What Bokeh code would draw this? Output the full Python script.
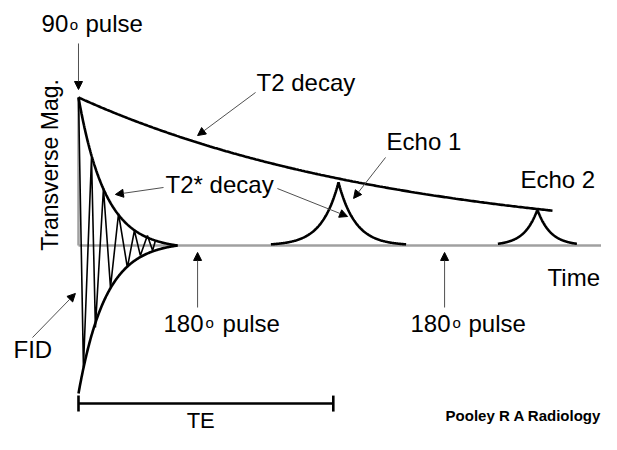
import numpy as np
from bokeh.plotting import figure
from bokeh.models import Range1d, Arrow, NormalHead
from bokeh.core.properties import value
from bokeh.embed import file_html
from bokeh.resources import INLINE

# ---------------- data (time: arbitrary units, magnitude: normalised) ----------------
T2 = 126.0                 # T2 decay constant
T2_STAR = 10.4             # T2* decay constant of the FID envelope
FID_END = 38.1             # time where the FID envelope meets the axis
T2_CURVE_END = 182.3       # end of the drawn T2 decay line
TIME_AXIS_END = 207.3
pulse_180_times = [45.8, 140.8]
echo_times = [100.0, 176.5]
echo_amps = [0.426, 0.243]
echo_taus = [6.5, 5.0]
echo_half_widths = [26.0, 15.2]
te_end = 98.0

# FID oscillation vertices
fid_t = [0.0, 1.9, 5.0, 6.5, 9.6, 12.3, 15.4, 18.8, 21.5, 23.8, 26.5, 28.5, 29.6]
fid_m = [1.0, -0.824, 0.595, -0.554, 0.385, -0.284, 0.216, -0.149, 0.101, -0.068, 0.068, -0.034, 0.034]

# annotation labels and their anchor positions (time, magnitude), anchored at text middle
labels = ["T2 decay", "Echo 1", "T2* decay", "Echo 2", "Time", "FID"]
label_t = [68.5, 118.5, 33.5, 170.0, 180.4, -25.0]
label_m = [1.101, 0.703, 0.409, 0.449, -0.216, -0.703]

pulse_labels = ["90", "180", "180"]
pulse_label_t = [-14.2, 32.7, 127.7]
pulse_label_m = [1.497, -0.530, -0.530]
deg_t = [-3.4, 48.8, 143.8]
deg_m = [1.492, -0.518, -0.518]
pulse_word_t = [2.7, 55.4, 150.0]

# arrows: (t_start, m_start, t_end, m_end)
arrows = [
    (0.0, 1.365, 0.0, 1.054),        # 90 pulse
    (68.1, 1.034, 45.8, 0.743),      # T2 decay
    (118.1, 0.595, 105.8, 0.318),    # Echo 1
    (32.7, 0.392, 14.2, 0.345),      # T2* decay -> FID
    (76.5, 0.385, 103.5, 0.196),     # T2* decay -> echo
    (-17.7, -0.622, -1.2, -0.324),   # FID
    (pulse_180_times[0], -0.419, pulse_180_times[0], -0.047),
    (pulse_180_times[1], -0.419, pulse_180_times[1], -0.047),
]

te_m = -1.068
te_tick = (-1.014, -1.122)
te_label_m = -1.182

FONT = value("Liberation Sans")

p = figure(width=601, height=434, output_backend="svg", toolbar_location=None,
           x_axis_type=None, y_axis_type=None, min_border=0,
           x_range=Range1d(-30.0, 201.154), y_range=Range1d(-1.2770, 1.6554),
           outline_line_color=None, background_fill_color="white")

GRAY = "#a0a0a0"
# axes of the diagram
p.line([0, TIME_AXIS_END], [0, 0], line_color=GRAY, line_width=2.5)
p.line([0, 0], [0, 1.0], line_color=GRAY, line_width=2.5)

# T2 decay
tt = np.linspace(0, T2_CURVE_END, 300)
p.line(tt, np.exp(-tt / T2), line_color="black", line_width=2.6)

# FID envelopes
te = np.linspace(0, FID_END, 200)
e_end = np.exp(-FID_END / T2_STAR)
env = (np.exp(-te / T2_STAR) - e_end) / (1 - e_end)
p.line(te, env, line_color="black", line_width=2.6)
p.line(te, -env, line_color="black", line_width=2.6)

# FID oscillation
p.line(fid_t, fid_m, line_color="black", line_width=1.6)

# echoes
for tc, a, tau, hw in zip(echo_times, echo_amps, echo_taus, echo_half_widths):
    ts = np.linspace(tc - hw, tc + hw, 201)
    p.line(ts, a * np.exp(-np.abs(ts - tc) / tau), line_color="black", line_width=2.6)

# arrows
for (x0, y0, x1, y1) in arrows:
    p.add_layout(Arrow(end=NormalHead(size=8, fill_color="black", line_color="black", line_width=1),
                       x_start=x0, y_start=y0, x_end=x1, y_end=y1,
                       line_color="#505050", line_width=1))

# TE bar
p.line([0, te_end], [te_m, te_m], line_color="black", line_width=2.6)
p.line([0, 0], list(te_tick), line_color="black", line_width=2.6)
p.line([te_end, te_end], list(te_tick), line_color="black", line_width=2.6)
p.text(x=[te_end / 2 - 2.0], y=[te_label_m], text=["TE"], text_font=FONT, text_font_size="22px",
       text_align="center", text_baseline="middle", text_color="black")

# labels
p.text(x=label_t, y=label_m, text=labels, text_font=FONT, text_font_size="24px",
       text_align="left", text_baseline="middle", text_color="black")
p.text(x=pulse_label_t, y=pulse_label_m, text=pulse_labels, text_font=FONT, text_font_size="24px",
       text_align="left", text_baseline="middle", text_color="black")
p.text(x=deg_t, y=deg_m, text=["o", "o", "o"], text_font=FONT, text_font_size="15px",
       text_align="left", text_baseline="middle", text_color="black")
p.text(x=pulse_word_t, y=pulse_label_m, text=["pulse", "pulse", "pulse"], text_font=FONT,
       text_font_size="24px", text_align="left", text_baseline="middle", text_color="black")

p.text(x=[-11.15], y=[0.544], text=["Transverse Mag."], angle=np.pi / 2, text_font=FONT,
       text_font_size="23px", text_align="center", text_baseline="middle", text_color="black")

p.text(x=[141.2], y=[-1.149], text=["Pooley R A Radiology"], text_font=FONT, text_font_size="15px",
       text_font_style="bold", text_align="left", text_baseline="middle", text_color="black")

open("out.html", "w").write(file_html(p, INLINE))
